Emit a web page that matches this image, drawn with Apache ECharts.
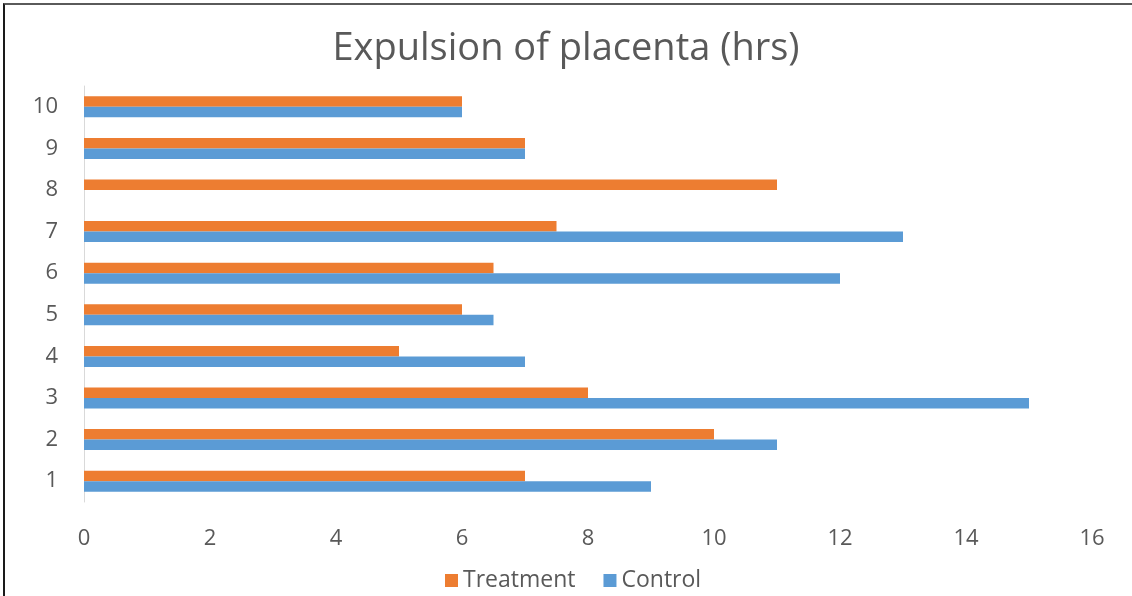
<!DOCTYPE html>
<html>
<head>
<meta charset="utf-8">
<script src="https://cdn.jsdelivr.net/npm/echarts@6/dist/echarts.min.js"></script>
<style>
html,body{margin:0;padding:0;background:#fff;}
#chart{width:1132px;height:596px;}
#frame{position:absolute;left:3px;top:3px;width:1200px;height:700px;border-top:2px solid #5a5a5a;border-left:2px solid #1a1a1a;pointer-events:none;}
</style>
</head>
<body>
<div id="chart"></div>
<div id="frame"></div>
<script>
const categories = ['1','2','3','4','5','6','7','8','9','10'];
const treatment = [7, 10, 8, 5, 6, 6.5, 7.5, 11, 7, 6];
const control = [9, 11, 15, 7, 6.5, 12, 13, 0, 7, 6];
const xTicks = { min: 0, max: 16, interval: 2 };

const chart = echarts.init(document.getElementById('chart'), null, {renderer:'canvas'});
const font = '"Open Sans", sans-serif';
chart.setOption({
  animation: false,
  title: {
    text: 'Expulsion of placenta (hrs)',
    left: 'center',
    top: 25,
    textStyle: { fontFamily: font, fontSize: 38, fontWeight: 'normal', color: '#595959' }
  },
  legend: {
    data: ['Treatment', 'Control'],
    left: 440,
    top: 564,
    itemWidth: 13,
    itemHeight: 13,
    itemGap: 28,
    icon: 'rect',
    textStyle: { fontFamily: font, fontSize: 23, color: '#595959' }
  },
  grid: { left: 84, right: 40, top: 86, height: 416 },
  xAxis: {
    type: 'value',
    min: xTicks.min, max: xTicks.max, interval: xTicks.interval,
    axisLine: { show: false },
    axisTick: { show: false },
    splitLine: { show: false },
    axisLabel: { fontFamily: font, fontSize: 22, color: '#595959', margin: 26 }
  },
  yAxis: {
    type: 'category',
    data: categories,
    axisLine: { show: true, lineStyle: { color: '#d9d9d9', width: 1 } },
    axisTick: { show: false },
    axisLabel: { fontFamily: font, fontSize: 22, color: '#595959', margin: 26 }
  },
  series: [
    { name: 'Treatment', type: 'bar', data: treatment, barWidth: 10.5, barGap: '0%', itemStyle: { color: '#ED7D31' } },
    { name: 'Control', type: 'bar', data: control, barWidth: 10.5, barGap: '0%', itemStyle: { color: '#5B9BD5' } }
  ]
});
</script>
</body>
</html>
